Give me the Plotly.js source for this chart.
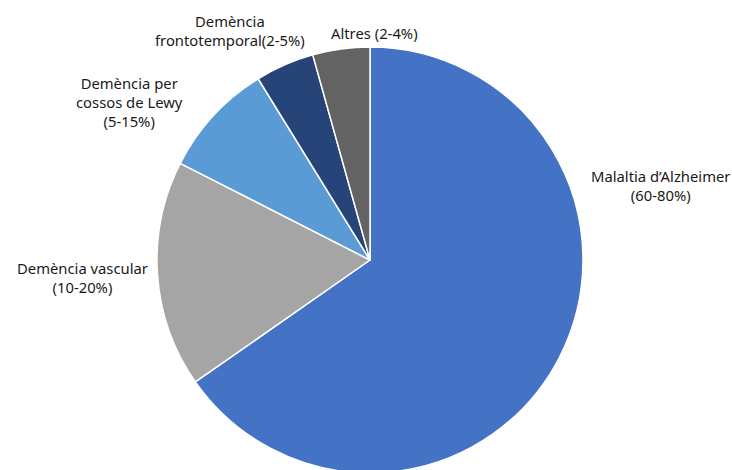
<!DOCTYPE html>
<html>
<head>
<meta charset="utf-8">
<script src="https://cdn.plot.ly/plotly-3.0.1.min.js"></script>
<style>html,body{margin:0;padding:0;background:#fff;overflow:hidden;}#chart{width:732px;height:470px;overflow:hidden;}</style>
</head>
<body>
<div id="chart"></div>
<script>
var categories = ["Malaltia d’Alzheimer", "Demència vascular", "Demència per cossos de Lewy", "Demència frontotemporal", "Altres"];
var values = [65.3, 17.2, 8.7, 4.47, 4.33];
var labelTexts = ["Malaltia d’Alzheimer<br>(60-80%)", "Demència vascular<br>(10-20%)", "Demència per<br>cossos de Lewy<br>(5-15%)", "Demència<br>frontotemporal(2-5%)", "Altres (2-4%)"];
var colors = ["#4472C4", "#A5A5A5", "#5B9BD5", "#264478", "#636363"];

var W = 732, H = 474;
// label centres in pixels (from top)
var labelPos = [[660, 185], [82, 277], [129, 102], [230, 31], [375, 33]];

var annotations = labelTexts.map(function (t, i) {
  return {
    text: t, showarrow: false, xref: "paper", yref: "paper",
    x: labelPos[i][0] / W, y: 1 - labelPos[i][1] / H,
    xanchor: "center", yanchor: "middle", align: "center",
    font: {family: "Noto Sans, Open Sans, sans-serif", size: 14.8, color: "#1a1a1a"}
  };
});

var cx = 370, cyTop = 260, r = 213;
var trace = {
  type: "pie",
  labels: categories,
  values: values,
  sort: false,
  direction: "clockwise",
  rotation: 0,
  textinfo: "none",
  hoverinfo: "label+percent",
  marker: {colors: colors, line: {color: "#ffffff", width: 1.5}},
  domain: {x: [(cx - r) / W, (cx + r) / W], y: [0, 2 * (H - cyTop) / H]}
};

Plotly.newPlot("chart", [trace], {
  width: W, height: H,
  margin: {l: 0, r: 0, t: 0, b: 0},
  showlegend: false,
  paper_bgcolor: "#ffffff",
  annotations: annotations
}, {displayModeBar: false});
</script>
</body>
</html>
